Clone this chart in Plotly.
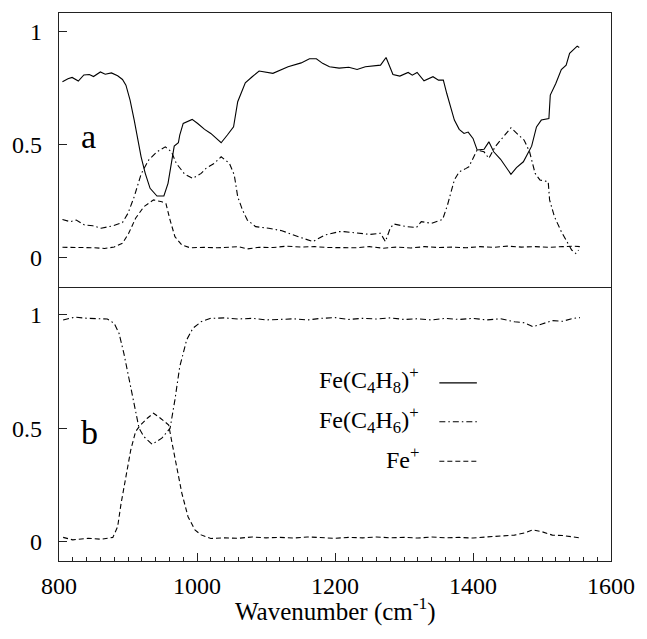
import plotly.graph_objects as go

# ---------------- data ----------------
# Panel a
a_c4h8_x = [805, 813, 819, 828, 836, 844, 850, 860, 867, 876, 885, 892, 897, 903, 909, 914, 919, 925, 932, 942,
            952, 958, 963, 967, 973, 975, 980, 987, 993, 1001, 1011, 1020, 1028, 1035, 1044, 1053, 1059, 1070, 1080, 1090,
            1110, 1132, 1151, 1163, 1173, 1182, 1192, 1206, 1220, 1232, 1244, 1266, 1274, 1284, 1294, 1306, 1312, 1319, 1329, 1342,
            1350, 1357, 1362, 1368, 1373, 1380, 1387, 1393, 1400, 1406, 1416, 1423, 1430, 1440, 1447, 1455, 1463, 1473, 1485, 1492,
            1499, 1510, 1512, 1520, 1528, 1535, 1540, 1547, 1551, 1554]
a_c4h8_y = [0.777, 0.79, 0.796, 0.78, 0.807, 0.809, 0.80, 0.82, 0.81, 0.816, 0.803, 0.787, 0.762, 0.696, 0.608, 0.52, 0.446, 0.373, 0.307, 0.273,
            0.273, 0.329, 0.417, 0.493, 0.508, 0.542, 0.593, 0.603, 0.611, 0.593, 0.567, 0.549, 0.527, 0.508, 0.542, 0.578, 0.689, 0.772, 0.799, 0.824,
            0.814, 0.843, 0.86, 0.878, 0.878, 0.858, 0.843, 0.837, 0.841, 0.831, 0.843, 0.85, 0.884, 0.809, 0.802, 0.818, 0.806, 0.818, 0.781, 0.799,
            0.784, 0.784, 0.725, 0.667, 0.608, 0.567, 0.549, 0.555, 0.527, 0.476, 0.479, 0.512, 0.468, 0.435, 0.402, 0.369, 0.398, 0.424, 0.493, 0.578,
            0.608, 0.615, 0.718, 0.769, 0.831, 0.85, 0.902, 0.924, 0.934, 0.928]

a_c4h6_x = [805, 816, 825, 837, 849, 861, 878, 892, 900, 909, 919, 930, 942, 954, 963, 970, 982, 994, 1006, 1013,
            1025, 1035, 1047, 1054, 1059, 1066, 1073, 1085, 1104, 1123, 1147, 1168, 1185, 1206, 1213, 1232, 1251, 1266, 1273, 1280,
            1285, 1304, 1318, 1325, 1340, 1356, 1363, 1373, 1380, 1390, 1394, 1406, 1416, 1423, 1432, 1444, 1455, 1466, 1474, 1482,
            1490, 1497, 1509, 1511, 1518, 1528, 1537, 1543, 1549, 1553]
a_c4h6_y = [0.17, 0.16, 0.167, 0.145, 0.142, 0.131, 0.142, 0.156, 0.197, 0.27, 0.37, 0.432, 0.468, 0.49, 0.468, 0.417, 0.37, 0.351, 0.373, 0.395,
            0.417, 0.446, 0.417, 0.366, 0.27, 0.211, 0.167, 0.138, 0.131, 0.12, 0.094, 0.072, 0.101, 0.116, 0.116, 0.109, 0.104, 0.109, 0.072, 0.131,
            0.15, 0.138, 0.134, 0.16, 0.153, 0.17, 0.233, 0.344, 0.38, 0.395, 0.402, 0.476, 0.468, 0.439, 0.49, 0.534, 0.574, 0.542, 0.52, 0.468,
            0.373, 0.344, 0.336, 0.256, 0.182, 0.116, 0.065, 0.035, 0.02, 0.035]

a_fe_x = [805, 820, 835, 850, 866, 880, 892, 901, 911, 923, 937, 949, 955, 961, 968, 978, 990, 1010, 1030, 1050,
          1060, 1073, 1090, 1110, 1130, 1150, 1170, 1190, 1210, 1230, 1250, 1270, 1290, 1310, 1330, 1350, 1370, 1390, 1410, 1430,
          1450, 1470, 1490, 1510, 1530, 1545, 1555]
a_fe_y = [0.047, 0.045, 0.046, 0.045, 0.042, 0.048, 0.065, 0.109, 0.175, 0.226, 0.256, 0.248, 0.24, 0.167, 0.094, 0.057, 0.045, 0.047, 0.045, 0.048,
          0.05, 0.04, 0.047, 0.046, 0.052, 0.048, 0.05, 0.046, 0.047, 0.045, 0.05, 0.043, 0.048, 0.044, 0.05, 0.046, 0.048, 0.045, 0.05, 0.047,
          0.052, 0.048, 0.05, 0.047, 0.05, 0.052, 0.05]

# Panel b
b_c4h6_x = [806, 823, 842, 870, 880, 887, 894, 901, 909, 916, 923, 935, 949, 961, 968, 975, 985, 994, 1006, 1020,
            1040, 1060, 1080, 1100, 1120, 1140, 1160, 1180, 1200, 1220, 1240, 1260, 1280, 1300, 1320, 1340, 1360, 1380, 1400, 1420,
            1440, 1460, 1475, 1487, 1500, 1515, 1530, 1545, 1555]
b_c4h6_y = [0.978, 0.99, 0.985, 0.982, 0.963, 0.919, 0.831, 0.728, 0.611, 0.501, 0.464, 0.43, 0.457, 0.501, 0.626, 0.772, 0.89, 0.941, 0.97, 0.985,
            0.987, 0.982, 0.985, 0.978, 0.98, 0.983, 0.978, 0.985, 0.988, 0.98, 0.985, 0.982, 0.987, 0.98, 0.983, 0.978, 0.985, 0.98, 0.985, 0.978,
            0.983, 0.97, 0.965, 0.948, 0.96, 0.975, 0.972, 0.985, 0.988]

b_fe_x = [806, 820, 842, 861, 878, 885, 890, 897, 904, 911, 918, 928, 937, 947, 959, 963, 970, 978, 987, 997,
          1006, 1020, 1040, 1060, 1080, 1100, 1120, 1140, 1160, 1180, 1200, 1220, 1240, 1260, 1280, 1300, 1320, 1340, 1360, 1380,
          1400, 1420, 1440, 1460, 1475, 1487, 1500, 1515, 1530, 1545, 1555]
b_fe_y = [0.02, 0.009, 0.016, 0.012, 0.02, 0.067, 0.17, 0.288, 0.405, 0.486, 0.515, 0.545, 0.567, 0.545, 0.515, 0.449, 0.332, 0.215, 0.111, 0.053,
          0.031, 0.015, 0.018, 0.016, 0.022, 0.018, 0.02, 0.017, 0.022, 0.02, 0.016, 0.02, 0.018, 0.022, 0.018, 0.02, 0.017, 0.022, 0.018, 0.02,
          0.017, 0.022, 0.025, 0.03, 0.04, 0.053, 0.045, 0.03, 0.028, 0.02, 0.018]

x_ticks = [800, 1000, 1200, 1400, 1600]
y_ticks = [0, 0.5, 1]
y_ticktext = ["0", "0.5", "1"]
legend_labels = ["Fe(C<sub>4</sub>H<sub>8</sub>)<sup>+</sup>",
                 "Fe(C<sub>4</sub>H<sub>6</sub>)<sup>+</sup>",
                 "Fe<sup>+</sup>"]
panel_labels = ["a", "b"]
x_title = "Wavenumber (cm<sup>-1</sup>)"

# ---------------- styles ----------------
FONT = "Liberation Serif, Times New Roman, Times, serif"
SOLID = "solid"
DASHDOT = "6px,3px,1.5px,3px"
DASH = "5px,3px"
LW = 1.1
AX = "#222"

fig = go.Figure()

fig.add_trace(go.Scatter(x=a_c4h8_x, y=a_c4h8_y, mode="lines", xaxis="x2", yaxis="y2",
                         line=dict(color="black", width=LW, dash=SOLID), showlegend=False))
fig.add_trace(go.Scatter(x=a_c4h6_x, y=a_c4h6_y, mode="lines", xaxis="x2", yaxis="y2",
                         line=dict(color="black", width=LW, dash=DASHDOT), showlegend=False))
fig.add_trace(go.Scatter(x=a_fe_x, y=a_fe_y, mode="lines", xaxis="x2", yaxis="y2",
                         line=dict(color="black", width=LW, dash=DASH), showlegend=False))
fig.add_trace(go.Scatter(x=b_c4h6_x, y=b_c4h6_y, mode="lines", xaxis="x", yaxis="y",
                         line=dict(color="black", width=LW, dash=DASHDOT), showlegend=False))
fig.add_trace(go.Scatter(x=b_fe_x, y=b_fe_y, mode="lines", xaxis="x", yaxis="y",
                         line=dict(color="black", width=LW, dash=DASH), showlegend=False))

base_axis = dict(showline=True, linecolor=AX, linewidth=1.2, showgrid=False, zeroline=False)
tickfont = dict(family=FONT, size=24, color="black")

fig.update_layout(
    width=647, height=639,
    margin=dict(l=59, r=28, t=13, b=78),
    paper_bgcolor="white", plot_bgcolor="white",
    showlegend=False,
    xaxis=dict(domain=[0, 1], anchor="y", range=[800, 1600], tickvals=x_ticks, mirror=False,
               ticks="inside", ticklen=8, tickwidth=1, tickcolor=AX,
               minor=dict(dtick=20, tick0=800, ticks="inside", ticklen=4, tickwidth=1, tickcolor=AX),
               tickfont=tickfont, ticklabelstandoff=3, **base_axis),
    xaxis2=dict(domain=[0, 1], anchor="y2", matches="x", range=[800, 1600], mirror=True,
                showticklabels=False, ticks="", **base_axis),
    yaxis=dict(domain=[0, 0.5], anchor="x", range=[-0.084, 1.123], tickvals=y_ticks, ticktext=y_ticktext,
               ticks="inside", ticklen=8, tickwidth=1, tickcolor=AX, mirror=True,
               tickfont=tickfont, ticklabelstandoff=11, **base_axis),
    yaxis2=dict(domain=[0.5, 1], anchor="x2", range=[-0.128, 1.08], tickvals=y_ticks, ticktext=y_ticktext,
                ticks="inside", ticklen=8, tickwidth=1, tickcolor=AX, mirror=True,
                tickfont=tickfont, ticklabelstandoff=11, **base_axis),
)

annotations = []
# panel labels
annotations.append(dict(text=panel_labels[0], xref="paper", yref="paper", x=0.054, y=0.774,
                        xanchor="center", yanchor="middle", showarrow=False,
                        font=dict(family=FONT, size=34, color="black")))
annotations.append(dict(text=panel_labels[1], xref="paper", yref="paper", x=0.055, y=0.234,
                        xanchor="center", yanchor="middle", showarrow=False,
                        font=dict(family=FONT, size=34, color="black")))
# axis title
annotations.append(dict(text=x_title, xref="paper", yref="paper", x=0.5, y=-0.089,
                        xanchor="center", yanchor="middle", showarrow=False,
                        font=dict(family=FONT, size=25, color="black")))
# legend (text on the left, line sample on the right)
leg_text_y = [0.330, 0.257, 0.188]
leg_line_y = [0.325, 0.254, 0.182]
leg_dash = [SOLID, DASHDOT, DASH]
shapes = []
for lab, ty, ly, d in zip(legend_labels, leg_text_y, leg_line_y, leg_dash):
    annotations.append(dict(text=lab, xref="paper", yref="paper", x=0.656, y=ty,
                            xanchor="right", yanchor="middle", showarrow=False,
                            font=dict(family=FONT, size=24, color="black")))
    shapes.append(dict(type="line", xref="paper", yref="paper", x0=0.689, x1=0.757, y0=ly, y1=ly,
                       line=dict(color="black", width=LW, dash=d)))

fig.update_layout(annotations=annotations, shapes=shapes)

fig.write_html("out.html", config={"displayModeBar": False},
               post_script="document.body.style.margin='0';")
